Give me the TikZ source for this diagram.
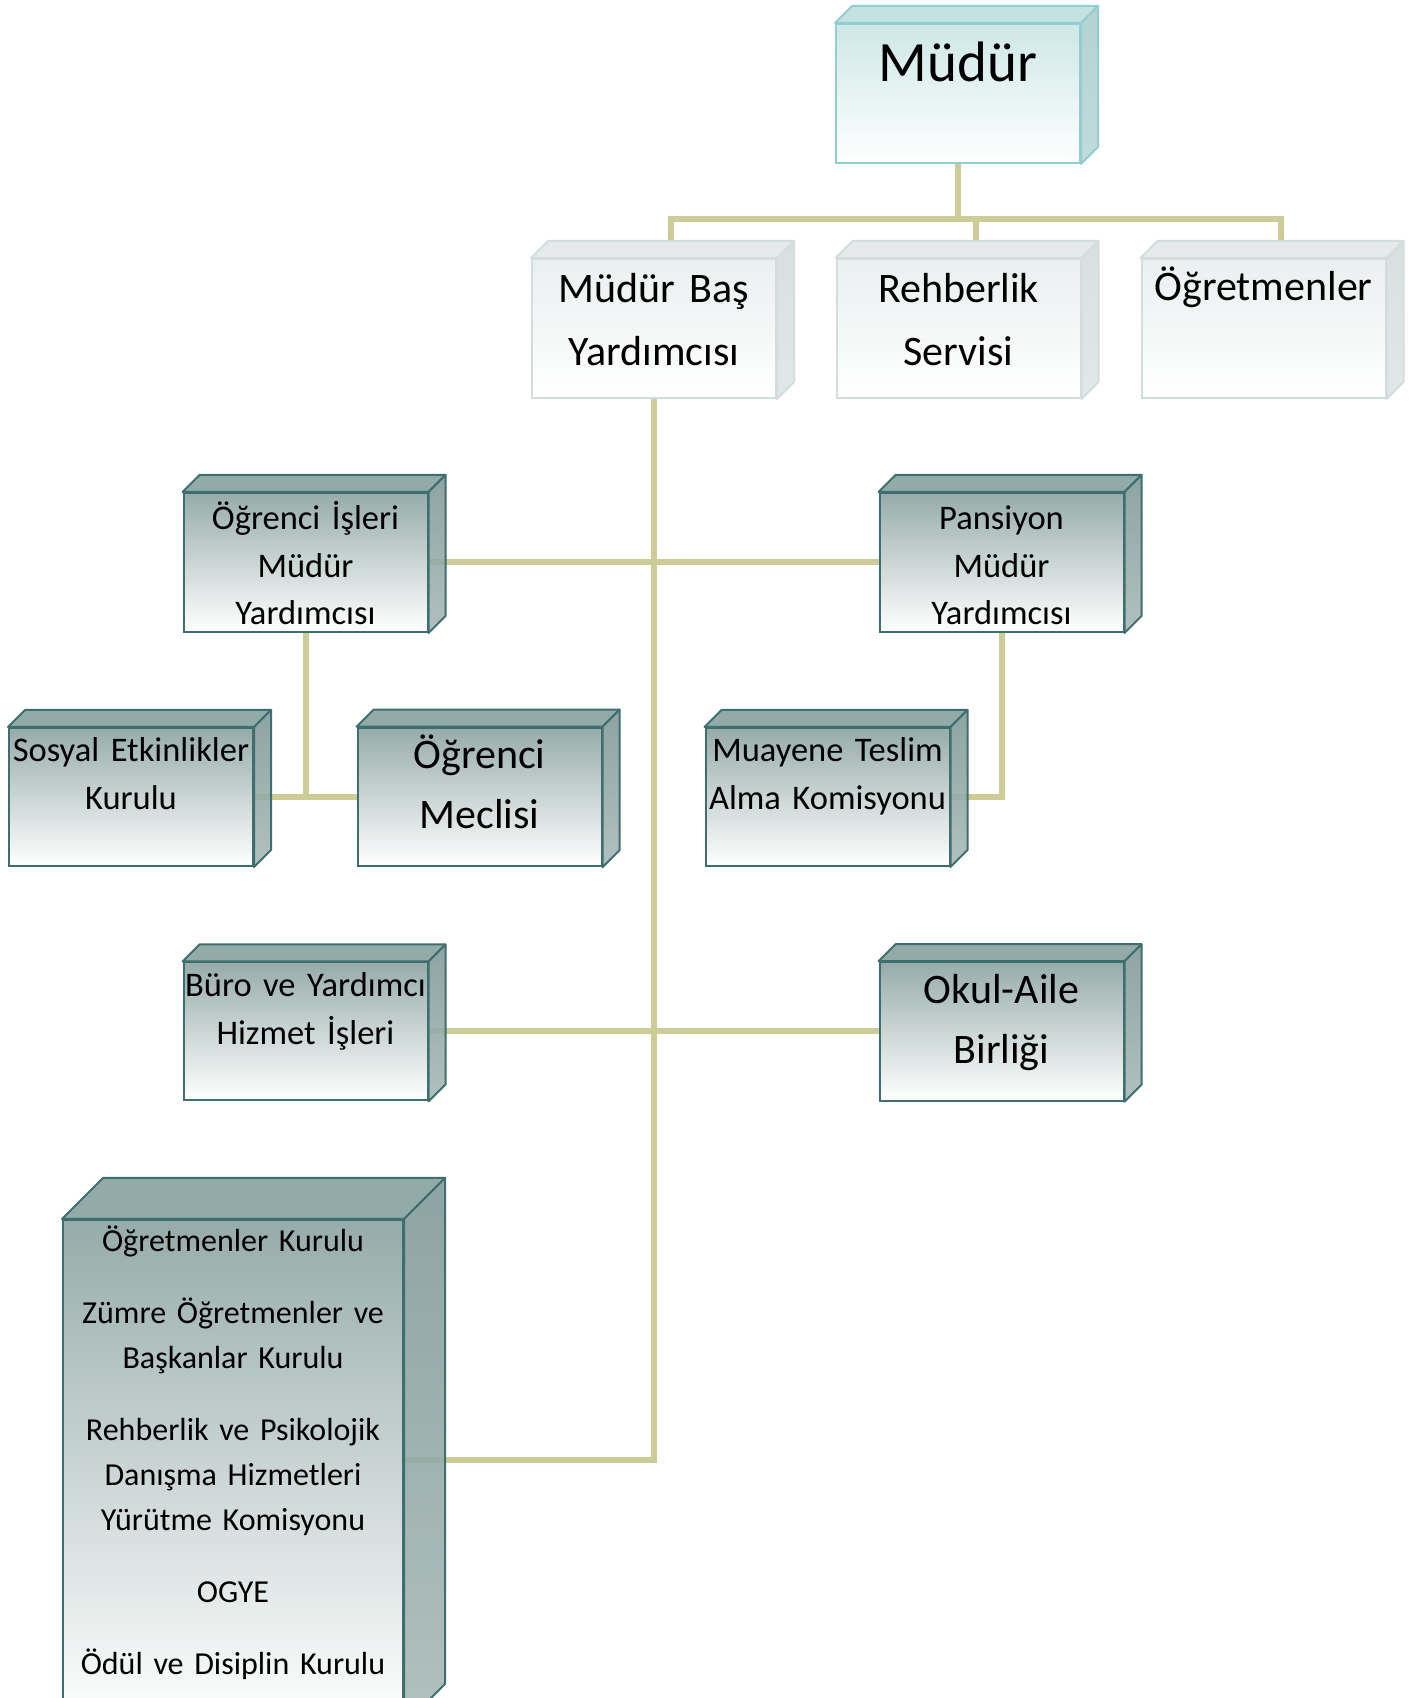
\documentclass[tikz,border=0pt]{standalone}
\usepackage{fontspec}
\setmainfont{Carlito}
\usetikzlibrary{backgrounds}
% colours of the three box families
\definecolor{linecy}{RGB}{147,205,205}
\definecolor{capcy}{RGB}{196,226,226}
\definecolor{sidecy}{RGB}{170,204,204}
\definecolor{sidelowcy}{RGB}{184,214,214}
\definecolor{frontcy}{RGB}{206,231,231}
\definecolor{linegr}{RGB}{211,221,221}
\definecolor{capgr}{RGB}{230,234,234}
\definecolor{sidegr}{RGB}{212,219,219}
\definecolor{sidelowgr}{RGB}{222,227,227}
\definecolor{frontgr}{RGB}{234,239,239}
\definecolor{linetl}{RGB}{62,110,110}
\definecolor{captl}{RGB}{146,170,168}
\definecolor{sidetl}{RGB}{126,151,150}
\definecolor{sidelowtl}{RGB}{166,184,182}
\definecolor{fronttl}{RGB}{150,172,170}
\definecolor{connline}{RGB}{204,204,153}
\tikzset{
  box/.style={rectangle, inner sep=0pt, line width=2pt, align=center, text=black, text width=244pt},
  cybox/.style={box, draw=linecy, top color=frontcy, bottom color=white},
  grbox/.style={box, draw=linegr, top color=frontgr, bottom color=white},
  tlbox/.style={box, draw=linetl, top color=fronttl, bottom color=white},
  headtext/.style={font=\fontsize{57}{68}\selectfont, text height=58pt, text depth=81pt},
  rowtext/.style={font=\fontsize{42}{63}\selectfont, text height=44pt, text depth=95pt},
  midtext/.style={font=\fontsize{34.5}{48}\selectfont, text height=34pt, text depth=104pt},
  threetext/.style={font=\fontsize{34.5}{47.5}\selectfont, text height=37pt, text depth=102pt},
  largetext/.style={font=\fontsize{42}{60}\selectfont, text height=41pt, text depth=97.5pt},
  listtext/.style={font=\fontsize{32}{45}\selectfont, text height=32pt, text depth=472pt, text width=340pt},
  conn/.style={draw=connline, line width=6pt}
}
\begin{document}
\begin{tikzpicture}[x=1pt,y=1pt]
  \useasboundingbox (0,0) rectangle (1412,1698);
  \clip (0,0) rectangle (1412,1698);
  % front faces
  \node[cybox, headtext] (mudur) at (958,1604.5) {Müdür};
  \node[grbox, rowtext] (basyrd) at (654,1369.5) {Müdür Baş\\Yardımcısı};
  \node[grbox, rowtext] (rehber) at (958.5,1369.5) {Rehberlik\\Servisi};
  \node[grbox, rowtext, text height=42pt, text depth=97pt] (ogretmen) at (1263.5,1369.5) {Öğretmenler};
  \node[tlbox, threetext] (ogrisleri) at (305.5,1135.5) {Öğrenci İşleri\\Müdür\\Yardımcısı};
  \node[tlbox, threetext] (pansiyon) at (1001.5,1135.5) {Pansiyon\\Müdür\\Yardımcısı};
  \node[tlbox, midtext] (sosyal) at (131,901) {Sosyal Etkinlikler\\Kurulu};
  \node[tlbox, largetext] (meclis) at (479.5,901) {Öğrenci\\Meclisi};
  \node[tlbox, midtext] (muayene) at (827.5,901) {Muayene Teslim\\Alma Komisyonu};
  \node[tlbox, midtext] (buro) at (305.5,666.5) {Büro ve Yardımcı\\Hizmet İşleri};
  \node[tlbox, largetext] (okulaile) at (1001.5,666.5) {Okul-Aile\\Birliği};
  \node[tlbox, listtext] (kurullar) at (233,226) {Öğretmenler Kurulu\\[27pt]Zümre Öğretmenler ve\\Başkanlar Kurulu\\[27pt]Rehberlik ve Psikolojik\\Danışma Hizmetleri\\Yürütme Komisyonu\\[27pt]OGYE\\[27pt]Ödül ve Disiplin Kurulu};
  % top and side faces
  \foreach \n/\d/\f in {mudur/17/cy, basyrd/17/gr, rehber/17/gr, ogretmen/17/gr,
      ogrisleri/17/tl, pansiyon/17/tl, sosyal/17/tl, meclis/17/tl, muayene/17/tl,
      buro/17/tl, okulaile/17/tl, kurullar/41/tl} {
    \filldraw[fill=cap\f, draw=line\f, line width=2pt, line join=round]
      (\n.north west) -- ++(\d,\d) -- ([shift={(\d,\d)}]\n.north east) -- (\n.north east) -- cycle;
    \shadedraw[top color=side\f, bottom color=sidelow\f, fill opacity=0.88, draw=line\f, line width=2pt, line join=round]
      (\n.north east) -- ++(\d,\d) -- ([shift={(\d,\d)}]\n.south east) -- (\n.south east) -- cycle;
  }
  % connectors
  \begin{pgfonlayer}{background}
    \coordinate (bus) at ([yshift=-55]mudur.south);
    \draw[conn] (mudur.south) -- (bus);
    \foreach \n in {basyrd,rehber,ogretmen}
      \draw[conn] ([shift={(17,17)}]\n.north) |- (bus);
    \draw[conn] (basyrd.south) |- ([yshift=12]kurullar.east);
    \draw[conn] (ogrisleri.east) -- (pansiyon.west);
    \draw[conn] (buro.east) -- (okulaile.west);
    \draw[conn] (ogrisleri.south) |- (sosyal.east);
    \draw[conn] (sosyal.east) -- (meclis.west);
    \draw[conn] (pansiyon.south) |- (muayene.east);
  \end{pgfonlayer}
\end{tikzpicture}
\end{document}
